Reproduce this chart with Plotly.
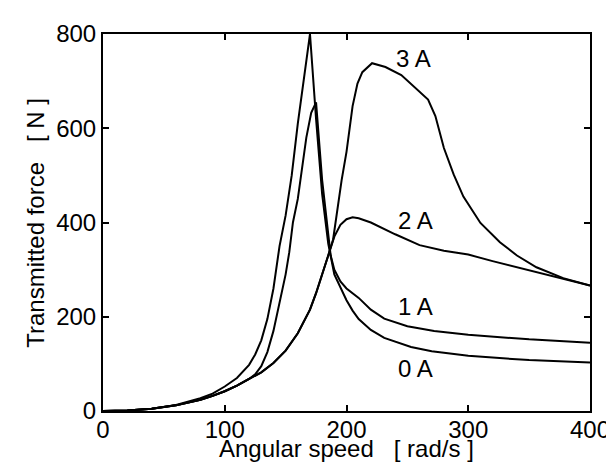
import plotly.graph_objects as go

# Angular speed [rad/s] and transmitted force [N] for each current level
x_0A = [0, 20, 40, 60, 80, 90, 100, 110, 120, 125, 130, 135, 140, 145, 150, 155, 160, 165, 170,
        175, 180, 185, 190, 200, 205, 210, 220, 231, 240, 253, 270, 300, 350, 400]
y_0A = [0, 1, 5, 13, 27, 37, 52, 70, 98, 120, 150, 195, 260, 350, 415, 500, 610, 700, 800,
        620, 460, 355, 290, 235, 213, 195, 172, 155, 147, 136, 127, 117, 108, 103]

x_1A = [0, 20, 40, 60, 80, 90, 100, 110, 120, 125, 130, 135, 140, 145, 150, 153, 156, 160, 163,
        167, 171, 175, 180, 184, 187, 190, 195, 200, 205, 210, 220, 231, 250, 272, 300, 350, 400]
y_1A = [0, 1, 5, 12, 24, 32, 42, 54, 68, 78, 95, 125, 170, 230, 290, 337, 400, 450, 510,
        580, 633, 655, 490, 393, 330, 300, 275, 260, 250, 240, 215, 196, 180, 170, 162, 152, 145]

x_2A = [0, 20, 40, 60, 80, 90, 100, 110, 120, 130, 140, 150, 160, 170, 175, 180, 185, 190, 195,
        200, 205, 210, 220, 240, 260, 280, 300, 320, 340, 360, 380, 400]
y_2A = [0, 1, 5, 12, 24, 32, 42, 54, 68, 82, 102, 128, 165, 215, 250, 288, 330, 370, 395,
        407, 411, 409, 400, 375, 352, 340, 332, 318, 305, 292, 280, 266]

x_3A = [0, 20, 40, 60, 80, 90, 100, 110, 120, 130, 140, 150, 160, 170, 175, 180, 185, 189, 192,
        196, 200, 205, 209, 213, 221, 232, 245, 252, 260, 267, 273, 280, 288, 296, 310, 326, 340,
        356, 378, 400]
y_3A = [0, 1, 5, 12, 24, 32, 42, 54, 68, 82, 102, 128, 165, 215, 250, 288, 330, 364, 420,
        490, 550, 647, 695, 719, 738, 730, 713, 697, 678, 661, 626, 558, 502, 455, 399, 358, 330,
        305, 282, 266]

series = [("0 A", x_0A, y_0A), ("1 A", x_1A, y_1A), ("2 A", x_2A, y_2A), ("3 A", x_3A, y_3A)]

# Curve labels (text, x, y in data units)
label_text = ["3 A", "2 A", "1 A", "0 A"]
label_x = [255, 257, 257, 257]
label_y = [748, 405, 221, 91]

x_ticks = [0, 100, 200, 300, 400]
y_ticks = [0, 200, 400, 600, 800]

x_title = "Angular speed\u00a0\u00a0\u00a0[ rad/s ]"
y_title = "Transmitted force\u00a0\u00a0\u00a0[ N ]"

FONT = "Arial, 'Liberation Sans', Helvetica, sans-serif"
FS = 24

fig = go.Figure()
for name, xs, ys in series:
    fig.add_trace(go.Scatter(x=xs, y=ys, mode="lines", name=name,
                             line=dict(color="black", width=2), showlegend=False))

for t, lx, ly in zip(label_text, label_x, label_y):
    fig.add_annotation(x=lx, y=ly, text=t, showarrow=False,
                       font=dict(family=FONT, size=FS, color="black"))

# Axis titles placed as annotations for exact positioning
fig.add_annotation(xref="paper", yref="paper", x=0.5, y=-0.099, text=x_title,
                   showarrow=False, xanchor="center", yanchor="middle",
                   font=dict(family=FONT, size=FS, color="black"))
fig.add_annotation(xref="paper", yref="paper", x=-0.139, y=0.5, text=y_title,
                   textangle=-90, showarrow=False, xanchor="center", yanchor="middle",
                   font=dict(family=FONT, size=FS, color="black"))

axis_common = dict(showline=True, linecolor="black", linewidth=2, mirror="ticks",
                   ticks="inside", ticklen=6, tickwidth=2, tickcolor="black",
                   showgrid=False, zeroline=False,
                   tickfont=dict(family=FONT, size=FS, color="black"))

fig.update_xaxes(range=[0, 400], tickvals=x_ticks, ticktext=[str(v) for v in x_ticks],
                 ticklabelstandoff=-4, **axis_common)
fig.update_yaxes(range=[0, 800], tickvals=y_ticks, ticktext=[str(v) for v in y_ticks],
                 **axis_common)

fig.update_layout(width=614, height=466, paper_bgcolor="white", plot_bgcolor="white",
                  margin=dict(l=95, r=22, t=16, b=63))

fig.write_html("out.html")
